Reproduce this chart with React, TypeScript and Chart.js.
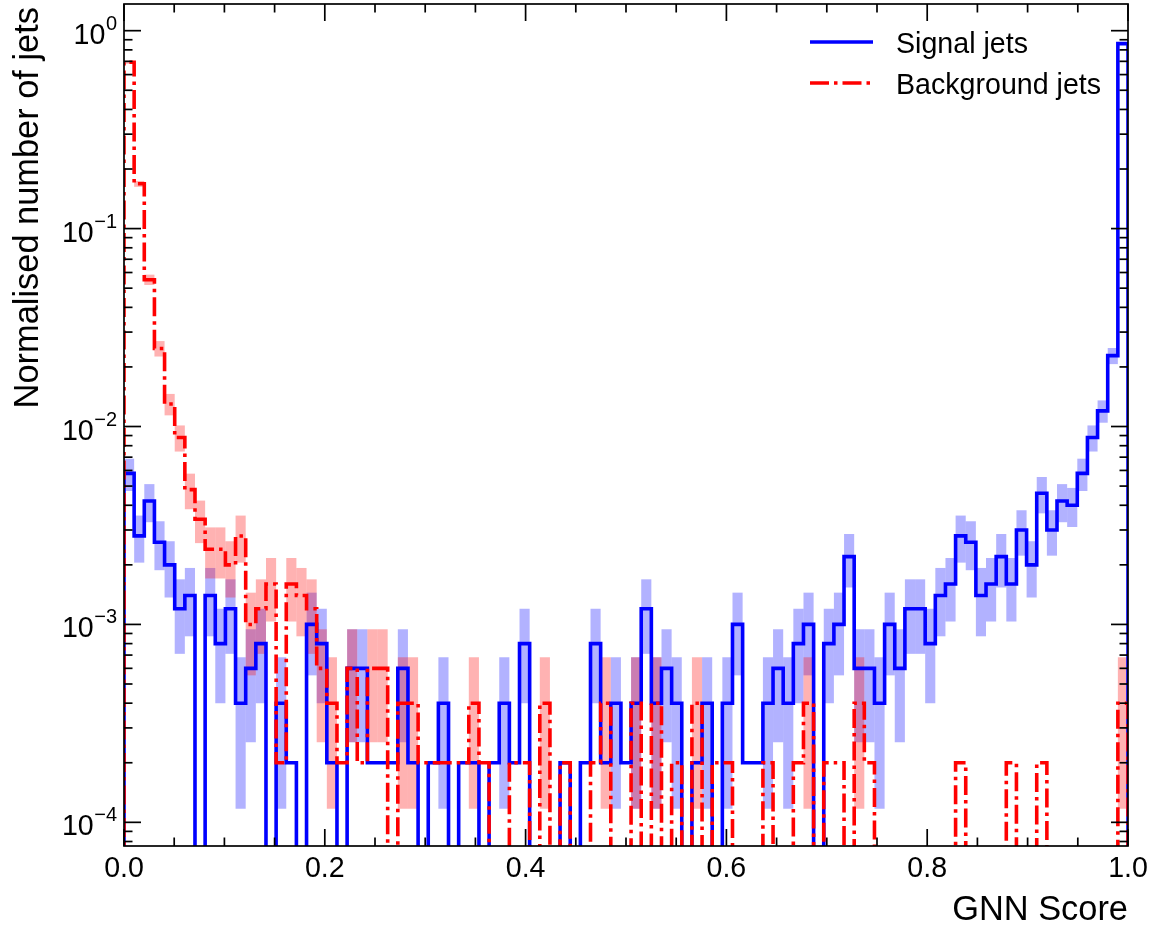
import React, { useEffect, useRef } from "react";
import { Chart, registerables } from "chart.js";

Chart.register(...registerables);

// ---------------- data (counts per bin, 99 equal bins on [0, 1]) ----------------
const signalCounts = [
  29, 14, 21, 13, 10, 6, 7, 0, 7, 4,
  6, 2, 3, 4, 0, 2, 1, 0, 5, 4,
  1, 0, 3, 3, 1, 1, 1, 3, 1, 0,
  1, 2, 0, 1, 1, 0, 1, 2, 1, 4,
  0, 0, 0, 1, 0, 1, 4, 1, 2, 1,
  2, 6, 2, 3, 2, 0, 1, 2, 0, 2,
  5, 1, 1, 2, 3, 2, 4, 5, 0, 4,
  5, 11, 3, 3, 2, 5, 3, 6, 6, 4,
  7, 8, 14, 13, 7, 8, 11, 8, 15, 10,
  23, 15, 21, 20, 29, 44, 60, 114, 4303,
];

const backgroundCounts = [
  3461, 842, 276, 124, 65, 44, 24, 17, 12, 12,
  10, 14, 5, 6, 8, 1, 8, 7, 6, 3,
  2, 1, 3, 1, 3, 3, 0, 2, 2, 1,
  1, 1, 1, 1, 2, 1, 0, 0, 1, 1,
  0, 2, 0, 1, 0, 0, 1, 2, 0, 0,
  2, 0, 2, 0, 1, 0, 2, 0, 1, 1,
  0, 0, 0, 1, 0, 0, 1, 2, 0, 1,
  1, 0, 2, 1, 0, 0, 0, 0, 0, 0,
  0, 0, 1, 0, 0, 0, 0, 1, 0, 0,
  1, 0, 0, 0, 0, 0, 0, 0, 2,
];

const seriesLabels = ["Signal jets", "Background jets"];
const xMajorTicks = [0, 0.2, 0.4, 0.6, 0.8, 1.0];
const xTickLabels = ["0.0", "0.2", "0.4", "0.6", "0.8", "1.0"];
const yDecadeExponents = [0, -1, -2, -3, -4];
const xAxisTitle = "GNN Score";
const yAxisTitle = "Normalised number of jets";

const X_MIN = 0;
const X_MAX = 1;
const Y_MIN = 7.593e-5;
const Y_MAX = 1.364;

// ---------------- helpers ----------------
const NB = signalCounts.length;
const edges = Array.from({ length: NB + 1 }, (_, i) => X_MIN + ((X_MAX - X_MIN) * i) / NB);
const FLOOR = 1e-9; // empty bins fall below the visible range

function total(counts: number[]) {
  return counts.reduce((s, c) => s + c, 0);
}

function stepPoints(counts: number[]) {
  const tot = total(counts);
  const pts: { x: number; y: number }[] = [{ x: edges[0], y: FLOOR }];
  counts.forEach((c, i) => pts.push({ x: edges[i], y: c > 0 ? c / tot : FLOOR }));
  const last = counts[NB - 1];
  pts.push({ x: edges[NB], y: last > 0 ? last / tot : FLOOR });
  pts.push({ x: edges[NB], y: FLOOR });
  return pts;
}

function bandBars(counts: number[]) {
  const tot = total(counts);
  const out: { x: number; y: [number, number] }[] = [];
  counts.forEach((c, i) => {
    if (c <= 0) return;
    const e = Math.sqrt(c);
    out.push({
      x: (edges[i] + edges[i + 1]) / 2,
      y: [Math.max(c - e, 0) / tot, (c + e) / tot],
    });
  });
  return out;
}

const FONT = '"Liberation Sans", Arial, Helvetica, sans-serif';
const TICK_FS = 28.6;
const SUP_FS = 20;
const TITLE_FS = 34.4;
const LEGEND_FS = 28.6;
const LINE_W = 3.6;
const RED_DASH = [19, 5, 3.5, 5];

const atlasAxesPlugin = {
  id: "atlasAxes",
  afterDraw(chart: any) {
    const { ctx, chartArea: a } = chart;
    const xs = chart.scales.x;
    const ys = chart.scales.y;
    ctx.save();
    ctx.strokeStyle = "#000";
    ctx.lineWidth = 1.7;
    ctx.setLineDash([]);
    const seg = (x1: number, y1: number, x2: number, y2: number) => {
      ctx.beginPath();
      ctx.moveTo(x1, y1);
      ctx.lineTo(x2, y2);
      ctx.stroke();
    };
    const MAJ = 17;
    const MINL = 8.5;
    // x ticks (major every 0.2, minor every 0.05), inward on bottom and top
    for (let i = 0; i <= 20; i++) {
      const v = X_MIN + (i * (X_MAX - X_MIN)) / 20;
      const px = xs.getPixelForValue(v);
      const len = i % 4 === 0 ? MAJ : MINL;
      seg(px, a.bottom, px, a.bottom - len);
      seg(px, a.top, px, a.top + len);
    }
    // y ticks (log decades + minor), inward on left and right
    for (let e = -5; e <= 0; e++) {
      for (let m = 1; m <= 9; m++) {
        const v = m * Math.pow(10, e);
        if (v < ys.min || v > ys.max) continue;
        const py = ys.getPixelForValue(v);
        const len = m === 1 ? MAJ : MINL;
        seg(a.left, py, a.left + len, py);
        seg(a.right, py, a.right - len, py);
      }
    }
    // frame
    ctx.strokeRect(a.left, a.top, a.right - a.left, a.bottom - a.top);

    // x tick labels
    ctx.fillStyle = "#000";
    ctx.font = `${TICK_FS}px ${FONT}`;
    ctx.textAlign = "center";
    ctx.textBaseline = "alphabetic";
    xMajorTicks.forEach((v, i) => {
      ctx.fillText(xTickLabels[i], xs.getPixelForValue(v), a.bottom + 31);
    });

    // y tick labels 10^e
    yDecadeExponents.forEach((e) => {
      const py = ys.getPixelForValue(Math.pow(10, e));
      const sup = e === 0 ? "0" : "\u2212" + Math.abs(e);
      ctx.font = `${SUP_FS}px ${FONT}`;
      const sw = ctx.measureText(sup).width;
      const right = a.left - 7;
      ctx.textAlign = "left";
      ctx.fillText(sup, right - sw, py - 1);
      ctx.font = `${TICK_FS}px ${FONT}`;
      ctx.textAlign = "right";
      ctx.fillText("10", right - sw - 0.5, py + 13);
    });

    // axis titles
    ctx.font = `${TITLE_FS}px ${FONT}`;
    ctx.textAlign = "right";
    ctx.fillText(xAxisTitle, a.right, 920);
    ctx.save();
    ctx.translate(38, 7);
    ctx.rotate(-Math.PI / 2);
    ctx.textAlign = "right";
    ctx.fillText(yAxisTitle, 0, 0);
    ctx.restore();

    // legend
    const hx1 = 810;
    const hx2 = 873;
    const tx = 896;
    ctx.lineWidth = LINE_W;
    ctx.strokeStyle = "#0000ff";
    ctx.setLineDash([]);
    seg(hx1, 42, hx2, 42);
    ctx.strokeStyle = "#ff0000";
    ctx.setLineDash(RED_DASH);
    seg(hx1, 83, hx2, 83);
    ctx.setLineDash([]);
    ctx.font = `${LEGEND_FS}px ${FONT}`;
    ctx.textAlign = "left";
    ctx.fillStyle = "#000";
    ctx.fillText(seriesLabels[0], tx, 53);
    ctx.fillText(seriesLabels[1], tx, 94);
    ctx.restore();
  },
};

export default function App() {
  const ref = useRef<HTMLCanvasElement>(null);

  useEffect(() => {
    const canvas = ref.current;
    if (!canvas) return;
    const chart = new Chart(canvas, {
      type: "line",
      data: {
        datasets: [
          {
            type: "bar",
            label: seriesLabels[0] + " unc.",
            data: bandBars(signalCounts) as any,
            backgroundColor: "rgba(0,0,255,0.3)",
            borderWidth: 0,
            grouped: false,
            barPercentage: 1,
            categoryPercentage: 1,
            inflateAmount: 0,
            order: 4,
          } as any,
          {
            type: "bar",
            label: seriesLabels[1] + " unc.",
            data: bandBars(backgroundCounts) as any,
            backgroundColor: "rgba(255,0,0,0.3)",
            borderWidth: 0,
            grouped: false,
            barPercentage: 1,
            categoryPercentage: 1,
            inflateAmount: 0,
            order: 3,
          } as any,
          {
            type: "line",
            label: seriesLabels[0],
            data: stepPoints(signalCounts),
            borderColor: "#0000ff",
            borderWidth: LINE_W,
            pointRadius: 0,
            stepped: "before",
            fill: false,
            order: 2,
          } as any,
          {
            type: "line",
            label: seriesLabels[1],
            data: stepPoints(backgroundCounts),
            borderColor: "#ff0000",
            borderWidth: LINE_W,
            borderDash: RED_DASH,
            pointRadius: 0,
            stepped: "before",
            fill: false,
            order: 1,
          } as any,
        ],
      },
      options: {
        responsive: false,
        maintainAspectRatio: false,
        animation: false,
        devicePixelRatio: 1,
        events: [],
        layout: { padding: { left: 124, right: 28, top: 4, bottom: 84 } },
        scales: {
          x: { type: "linear", min: X_MIN, max: X_MAX, offset: false, display: false },
          y: { type: "logarithmic", min: Y_MIN, max: Y_MAX, display: false },
        },
        plugins: {
          legend: { display: false },
          tooltip: { enabled: false },
        },
      },
      plugins: [atlasAxesPlugin],
    } as any);
    return () => chart.destroy();
  }, []);

  return (
    <div style={{ position: "absolute", left: 0, top: 0, width: 1156, height: 930, background: "#fff" }}>
      <canvas ref={ref} width={1156} height={930} style={{ display: "block", width: 1156, height: 930 }} />
    </div>
  );
}
